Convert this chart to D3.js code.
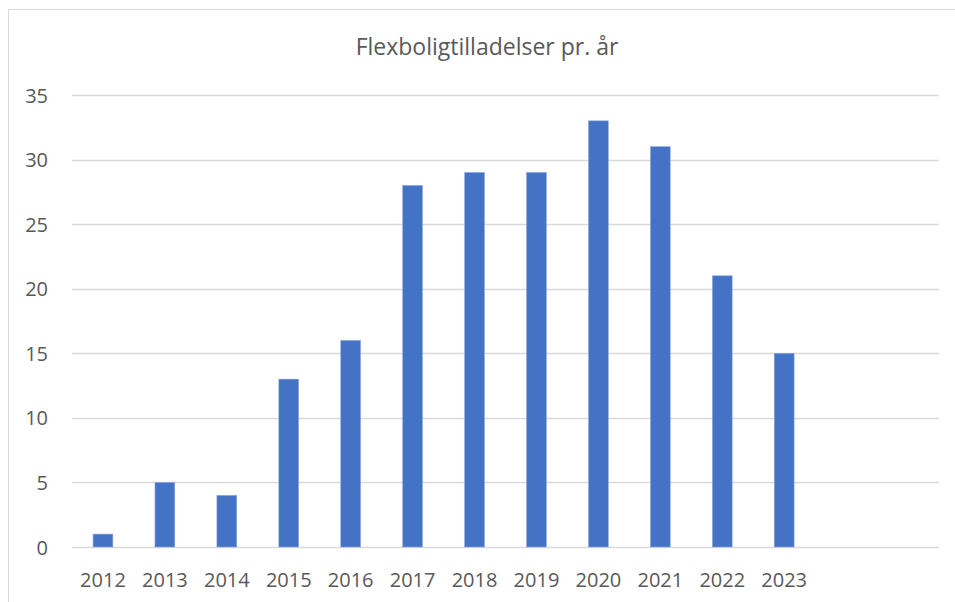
<!DOCTYPE html>
<html><head><meta charset="utf-8">
<script src="https://cdn.jsdelivr.net/npm/d3@7"></script>
<style>body{margin:0;background:#fff;} text{font-family:"Open Sans",sans-serif;}</style>
</head><body>
<svg id="c" width="955" height="602"></svg>
<script>
const categories = ["2012","2013","2014","2015","2016","2017","2018","2019","2020","2021","2022","2023","",""];
const values = [1,5,4,13,16,28,29,29,33,31,21,15];
const yTicks = [0,5,10,15,20,25,30,35];
const title = "Flexboligtilladelser pr. år";

const svg = d3.select("#c");
svg.append("rect").attr("x",8.5).attr("y",9.5).attr("width",980).attr("height",620)
  .attr("fill","#fff").attr("stroke","#d9d9d9");

const m = {l:72, r:939, t:95, b:547};
const slots = categories.map((c,i)=>"s"+i);
const x = d3.scaleBand().domain(slots).range([m.l,m.r]).paddingInner(0.68).paddingOuter(0.34);
const y = d3.scaleLinear().domain([0,35]).range([m.b,m.t]);

const grid = svg.append("g");
grid.selectAll("line").data(yTicks).join("line")
  .attr("x1",m.l).attr("x2",m.r).attr("y1",d=>Math.round(y(d))+0.5).attr("y2",d=>Math.round(y(d))+0.5)
  .attr("stroke","#d9d9d9").attr("stroke-width",1.3);

const yAxis = d3.axisLeft(y).tickValues(yTicks).tickSize(0).tickPadding(0);
const ya = svg.append("g").attr("transform","translate(48,0)").call(yAxis);
ya.select(".domain").remove();
ya.selectAll("text").attr("font-size",20).attr("fill","#595959").attr("dy","0.35em");

svg.append("g").selectAll("rect").data(values).join("rect")
  .attr("x",(d,i)=>x(slots[i])).attr("width",x.bandwidth())
  .attr("y",d=>y(d)).attr("height",d=>y(0)-y(d))
  .attr("fill","#4472C4").attr("stroke","#8faadc").attr("stroke-width",0.6);

const xAxis = d3.axisBottom(x).tickFormat((d,i)=>categories[i]).tickSize(0).tickPadding(0);
const xa = svg.append("g").attr("transform",`translate(0,${m.b})`).call(xAxis);
xa.select(".domain").remove();
xa.selectAll("text").attr("font-size",20).attr("fill","#595959").attr("dy",0).attr("y",40);

svg.append("text").attr("x",487).attr("y",55).attr("text-anchor","middle")
  .attr("font-size",23).attr("fill","#595959").text(title);
</script>
</body></html>
